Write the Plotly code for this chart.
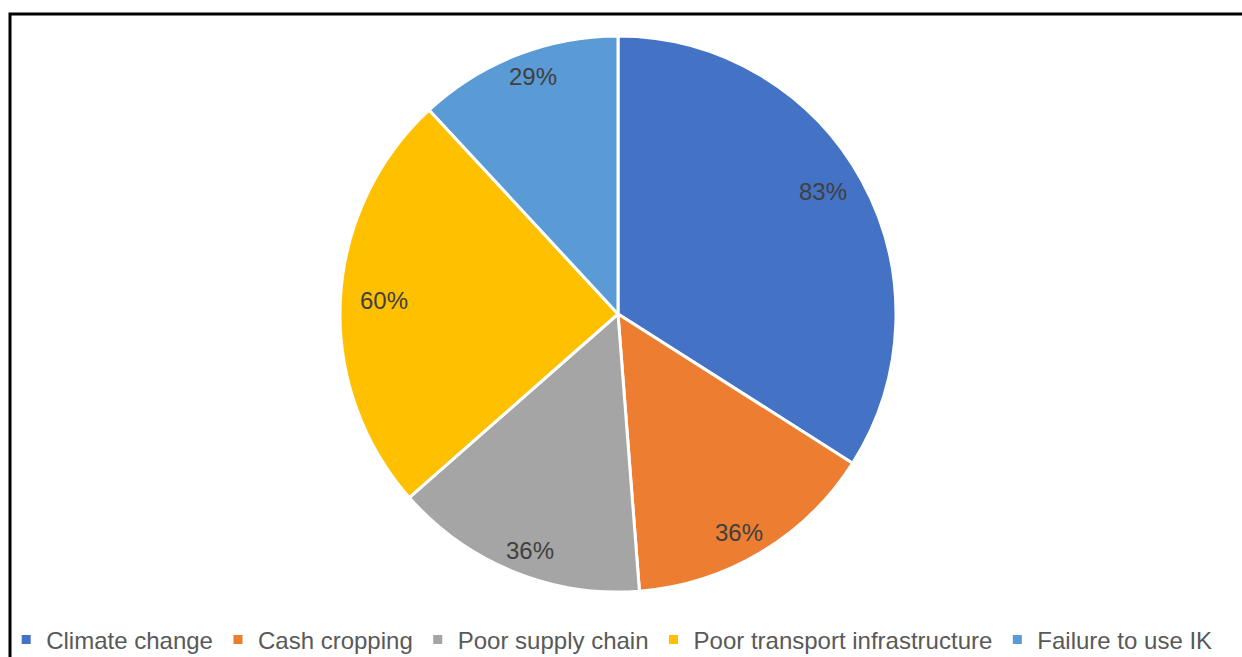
import math
import plotly.graph_objects as go

categories = ["Climate change", "Cash cropping", "Poor supply chain",
              "Poor transport infrastructure", "Failure to use IK"]
values = [83, 36, 36, 60, 29]
label_texts = ["83%", "36%", "36%", "60%", "29%"]
colors = ["#4472C4", "#ED7D31", "#A5A5A5", "#FFC000", "#5B9BD5"]

W, H = 1242, 657
cx, cy = 618, 314          # pie centre (px from top-left)
R = 278                     # drawn radius
rx, ry = 266, 290           # label ellipse radii
label_frac = 0.88

fig = go.Figure()
fig.add_trace(go.Pie(
    labels=categories, values=values, sort=False, direction="clockwise", rotation=0,
    marker=dict(colors=colors, line=dict(color="white", width=3)),
    textinfo="none", hoverinfo="label+value",
    domain=dict(x=[(cx - R) / W, (cx + R) / W],
                y=[1 - (cy + R) / H, 1 - (cy - R) / H]),
))

total = sum(values)
cum = 0
annotations = []
for v, t in zip(values, label_texts):
    mid = (cum + v / 2) / total * 2 * math.pi
    cum += v
    px = cx + label_frac * rx * math.sin(mid)
    py = cy - label_frac * ry * math.cos(mid)
    annotations.append(dict(x=px / W, y=1 - py / H, xref="paper", yref="paper",
                            xanchor="center", yanchor="middle",
                            text=t, showarrow=False,
                            font=dict(size=24, color="#404040",
                                      family="Liberation Sans, sans-serif")))

fig.update_layout(
    width=W, height=H, margin=dict(l=0, r=0, t=0, b=0, autoexpand=False),
    paper_bgcolor="white", plot_bgcolor="white",
    annotations=annotations,
    showlegend=True,
    legend=dict(orientation="h", x=0.005, xanchor="left", y=0.026, yanchor="middle",
                bgcolor="rgba(0,0,0,0)",
                font=dict(size=24, color="#595959",
                          family="Liberation Sans, sans-serif"),
                itemwidth=30, tracegroupgap=0),
    shapes=[dict(type="rect", xref="paper", yref="paper",
                 x0=10 / W, x1=1.05, y0=-0.05, y1=1 - 14 / H,
                 line=dict(color="black", width=3), fillcolor="rgba(0,0,0,0)")],
)

fig.write_html("out.html", config={"displayModeBar": False},
               post_script="document.body.style.margin='0';document.body.style.overflow='hidden';")
